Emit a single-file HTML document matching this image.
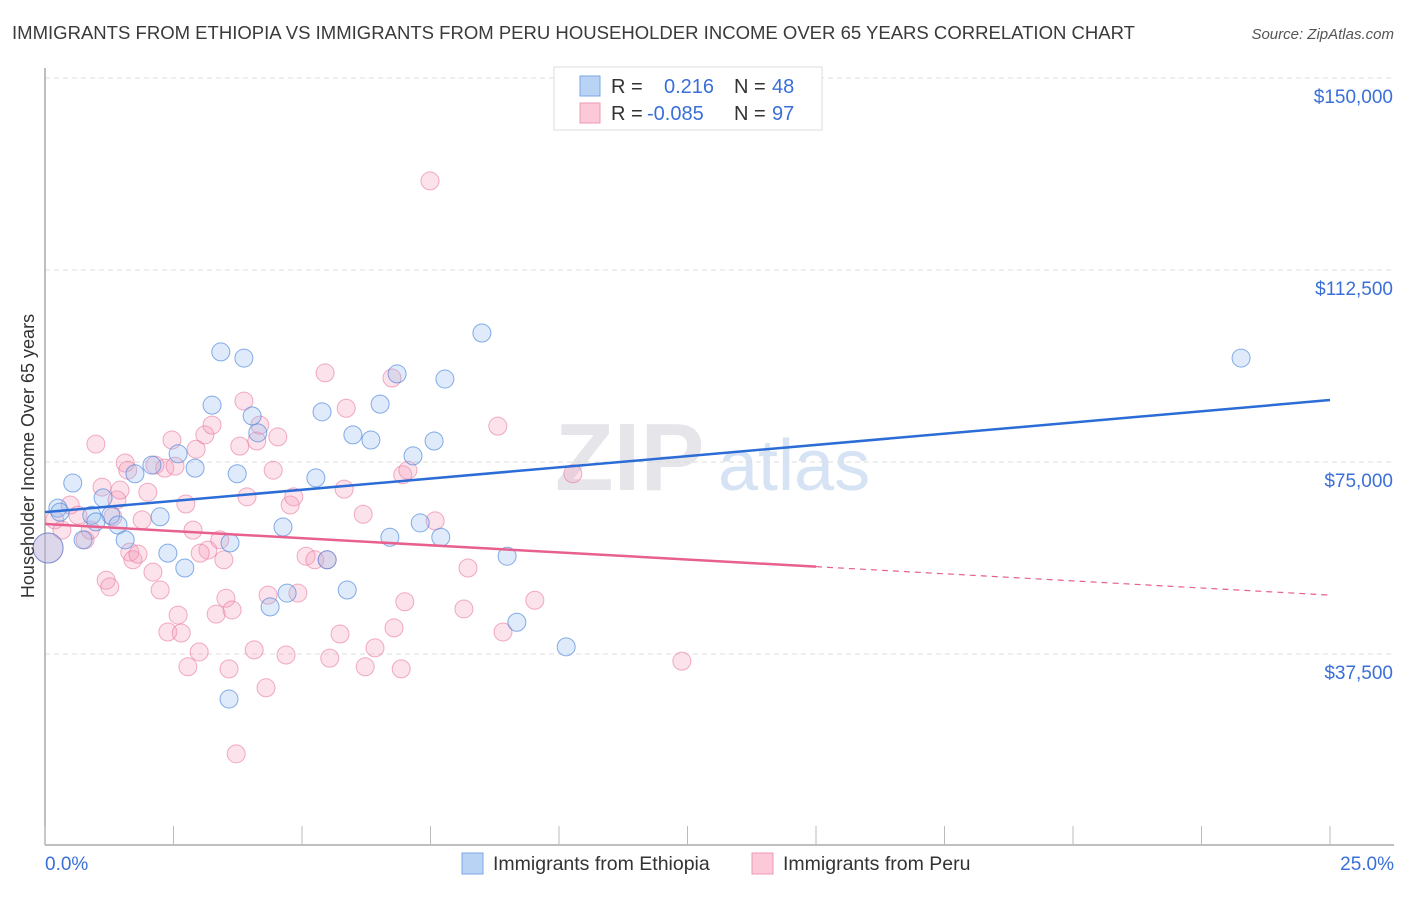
<!DOCTYPE html>
<html><head><meta charset="utf-8"><style>
body{margin:0;background:#fff;font-family:"Liberation Sans",sans-serif;}
svg text{font-family:"Liberation Sans",sans-serif;}
</style></head><body>
<svg id="chart" width="1406" height="892" xmlns="http://www.w3.org/2000/svg">
<text x="12" y="39" font-size="18.5" fill="#3a3a3a" textLength="1123" lengthAdjust="spacingAndGlyphs">IMMIGRANTS FROM ETHIOPIA VS IMMIGRANTS FROM PERU HOUSEHOLDER INCOME OVER 65 YEARS CORRELATION CHART</text>
<text x="1394" y="39" font-size="15" fill="#555" font-style="italic" text-anchor="end">Source: ZipAtlas.com</text>
<text x="555" y="490" font-size="96" fill="#e6e6ea" font-family="Liberation Serif" font-weight="bold">ZIP</text>
<text x="718" y="490" font-size="72" fill="#d6e3f4">atlas</text>
<g id="grid"></g>
<g id="axes"></g>
<g id="pts"></g>
<g id="trend"></g>
<text transform="translate(34,456) rotate(-90)" font-size="18" fill="#333" text-anchor="middle">Householder Income Over 65 years</text>
<g>
<rect x="554" y="67" width="268" height="63" fill="#fff" stroke="#ddd"/>
<rect x="580" y="76" width="20" height="20" fill="#b9d3f5" stroke="#7aa7e6"/>
<rect x="580" y="103" width="20" height="20" fill="#fbc9d8" stroke="#ee9ab5"/>
<text x="611" y="93" font-size="20" fill="#333">R = </text><text x="664" y="93" font-size="20" fill="#3a6fd8">0.216</text>
<text x="734" y="93" font-size="20" fill="#333">N = </text><text x="772" y="93" font-size="20" fill="#3a6fd8">48</text>
<text x="611" y="120" font-size="20" fill="#333">R = </text><text x="647" y="120" font-size="20" fill="#3a6fd8">-0.085</text>
<text x="734" y="120" font-size="20" fill="#333">N = </text><text x="772" y="120" font-size="20" fill="#3a6fd8">97</text>
</g>
<g>
<rect x="462" y="853" width="21" height="21" fill="#b9d3f5" stroke="#7aa7e6"/>
<text x="493" y="870" font-size="19.5" fill="#333">Immigrants from Ethiopia</text>
<rect x="752" y="853" width="21" height="21" fill="#fbc9d8" stroke="#ee9ab5"/>
<text x="783" y="870" font-size="19.5" fill="#333">Immigrants from Peru</text>
</g>
</svg>
<script>
const xTicks=[0,2.5,5,7.5,10,12.5,15,17.5,20,22.5,25];
const yTicks=[37500,75000,112500,150000];
const yTickLabels=["$37,500","$75,000","$112,500","$150,000"];
const ethX=[0.25,0.54,0.74,0.91,1.13,1.28,1.42,1.56,1.75,2.08,2.24,2.39,2.59,2.72,2.92,3.25,3.42,3.60,3.74,3.87,4.03,4.14,4.38,4.63,4.71,5.27,5.39,5.49,5.88,5.99,6.34,6.52,6.71,6.85,7.16,7.30,7.57,7.70,7.78,8.50,8.99,9.18,10.14,3.58,23.27,0.06,0.29,0.99];
const ethY=[66000,70900,59800,64600,68000,64600,62700,59800,72700,74400,64300,57200,76600,54300,73800,86100,96500,59200,72700,95300,84000,80700,46700,62300,49400,71900,84800,55900,50000,80300,79300,86300,60300,92200,76200,63100,79100,60300,91200,100200,56600,43700,38900,28700,95300,58200,65200,63300];
const peruX=[0.19,0.33,0.49,0.64,0.78,0.88,0.99,1.11,1.19,1.32,1.40,1.46,1.56,1.61,1.65,1.71,1.81,1.89,2.00,2.10,2.14,2.24,2.33,2.39,2.47,2.53,2.59,2.65,2.74,2.78,2.88,2.94,3.00,3.11,3.17,3.25,3.33,3.40,3.48,3.52,3.58,3.64,3.72,3.79,3.87,3.93,4.07,4.12,4.18,4.30,4.34,4.44,4.53,4.69,4.77,4.84,4.92,5.08,5.25,5.45,5.49,5.54,5.74,5.82,5.86,6.19,6.23,6.42,6.75,6.79,6.93,6.96,7.00,7.06,7.49,7.59,8.15,8.23,8.81,8.91,9.53,10.27,12.39,3.02,1.26,0.06];
const peruY=[63700,61700,66600,64600,59800,61700,78500,70100,51900,64300,67600,69500,74800,73400,57400,55900,57000,63700,69100,53500,74400,50000,73800,41800,79300,74200,45100,41600,66800,35000,61700,77500,37900,80300,57800,82200,45300,59800,55900,48400,34600,46100,18000,78100,86900,68200,38300,79100,82200,30900,49000,73400,79900,37300,66600,68200,49400,56600,55900,92400,55900,36700,41400,69700,85500,64800,35000,38700,91400,42600,34600,72500,47700,73400,129900,63500,46300,54300,82000,41800,48000,72700,36100,57200,50600,58200];
const ethTrend=[65200,87100];
const peruTrend=[62900,49000];
const peruSolidEnd=15;
const X=p=>45+p/25*1285, Y=v=>846-v/37500*192;
const NS="http://www.w3.org/2000/svg";
function mk(tag,attrs,parent){const e=document.createElementNS(NS,tag);for(const k in attrs)e.setAttribute(k,attrs[k]);document.getElementById(parent).appendChild(e);return e;}
yTicks.forEach((v,i)=>{
 const l=mk('line',{x1:45,x2:1394,y1:Y(v),y2:Y(v),stroke:'#dcdcdc','stroke-dasharray':'5,4'},'grid');
 
 
 const t=mk('text',{x:1393,y:Y(v)+25,'font-size':19,fill:'#3a6fd8','text-anchor':'end'},'grid');
 t.textContent=yTickLabels[i];
 
 
});
const ax=mk('line',{x1:45,x2:1394,y1:845,y2:845,stroke:'#aaa','stroke-width':1.5},'axes');


const ay=mk('line',{x1:45,x2:45,y1:68,y2:845,stroke:'#aaa','stroke-width':1.5},'axes');


xTicks.forEach(p=>{
 const t=mk('line',{x1:X(p),x2:X(p),y1:826,y2:845,stroke:'#bbb'},'axes');
 
 
});
const xl0=mk('text',{x:45,y:870,'font-size':19,fill:'#3a6fd8'},'axes');xl0.textContent=xTicks[0].toFixed(1)+'%';


const xl1=mk('text',{x:1394,y:870,'font-size':19,fill:'#3a6fd8','text-anchor':'end'},'axes');xl1.textContent=xTicks[xTicks.length-1].toFixed(1)+'%';


peruX.forEach((p,i)=>{
 const c=mk('circle',{cx:X(p),cy:Y(peruY[i]),r:i===peruX.length-1?15:9,fill:'rgba(246,160,188,0.3)',stroke:'rgba(232,120,158,0.6)','stroke-width':1},'pts');
 
 
});
ethX.forEach((p,i)=>{
 const c=mk('circle',{cx:X(p),cy:Y(ethY[i]),r:i===45?15:9,fill:'rgba(150,190,240,0.3)',stroke:'rgba(70,130,220,0.65)','stroke-width':1},'pts');
 
 
});
const bl=mk('line',{x1:X(0),y1:Y(ethTrend[0]),x2:X(25),y2:Y(ethTrend[1]),stroke:'#2b6cd6','stroke-width':2.5},'trend');


const pm=peruTrend[0]+(peruTrend[1]-peruTrend[0])*peruSolidEnd/25;
const pl=mk('line',{x1:X(0),y1:Y(peruTrend[0]),x2:X(peruSolidEnd),y2:Y(pm),stroke:'#e8608e','stroke-width':2.5},'trend');


const pd=mk('line',{x1:X(peruSolidEnd),y1:Y(pm),x2:X(25),y2:Y(peruTrend[1]),stroke:'#e8608e','stroke-width':1.2,'stroke-dasharray':'6,5'},'trend');


</script>
</body></html>
